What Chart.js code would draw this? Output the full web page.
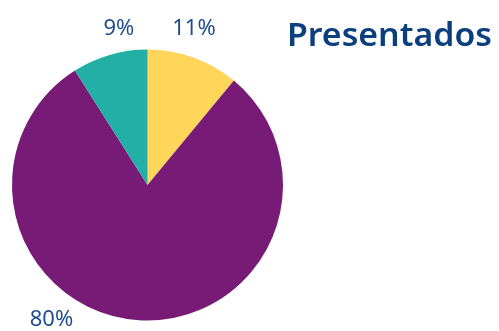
<!DOCTYPE html>
<html><head><meta charset="utf-8">
<script src="https://cdn.jsdelivr.net/npm/chart.js@4/dist/chart.umd.min.js"></script>
<style>html,body{margin:0;padding:0;background:#fff;}#wrap{width:499px;height:331px;position:relative;}</style>
</head><body><div id="wrap"><canvas id="c"></canvas></div>
<script>
const categories = ["A", "B", "C"];
const values = [11, 80, 9];
const labels = ["11%", "80%", "9%"];
const colors = ["#FFD55A", "#771B77", "#21AFA6"];
const title = "Presentados";
// label placement: [angle in degrees clockwise from top, distance from centre as fraction of radius]
const labelPlace = [[16.6, 1.20], [215.5, 1.22], [-10.4, 1.17]];

const labelPlugin = {
  id: 'lbl',
  afterDatasetsDraw(chart) {
    const ctx = chart.ctx;
    const arc = chart.getDatasetMeta(0).data[0];
    const cx = arc.x, cy = arc.y, r = arc.outerRadius;
    ctx.save();
    ctx.fillStyle = '#1F4E8C';
    ctx.font = '400 22px "Noto Sans"';
    ctx.textAlign = 'center';
    ctx.textBaseline = 'middle';
    labels.forEach((t, i) => {
      const a = labelPlace[i][0] * Math.PI / 180, d = labelPlace[i][1] * r;
      ctx.fillText(t, cx + Math.sin(a) * d, cy - Math.cos(a) * d);
    });
    ctx.fillStyle = '#0B3F7E';
    ctx.font = '600 33px "Noto Sans"';
    ctx.textAlign = 'left';
    ctx.textBaseline = 'alphabetic';
    const w = ctx.measureText(title).width;
    ctx.translate(287, 46);
    ctx.scale(205 / w, 1);
    ctx.fillText(title, 0, 0);
    ctx.restore();
  }
};

new Chart(document.getElementById('c'), {
  type: 'pie',
  data: { labels: categories, datasets: [{ data: values, backgroundColor: colors, borderWidth: 0 }] },
  options: {
    responsive: true, maintainAspectRatio: false, animation: false,
    layout: { padding: { left: 12, right: 216, top: 49.5, bottom: 10.5 } },
    plugins: { legend: { display: false }, tooltip: { enabled: false } }
  },
  plugins: [labelPlugin]
});
</script></body></html>
